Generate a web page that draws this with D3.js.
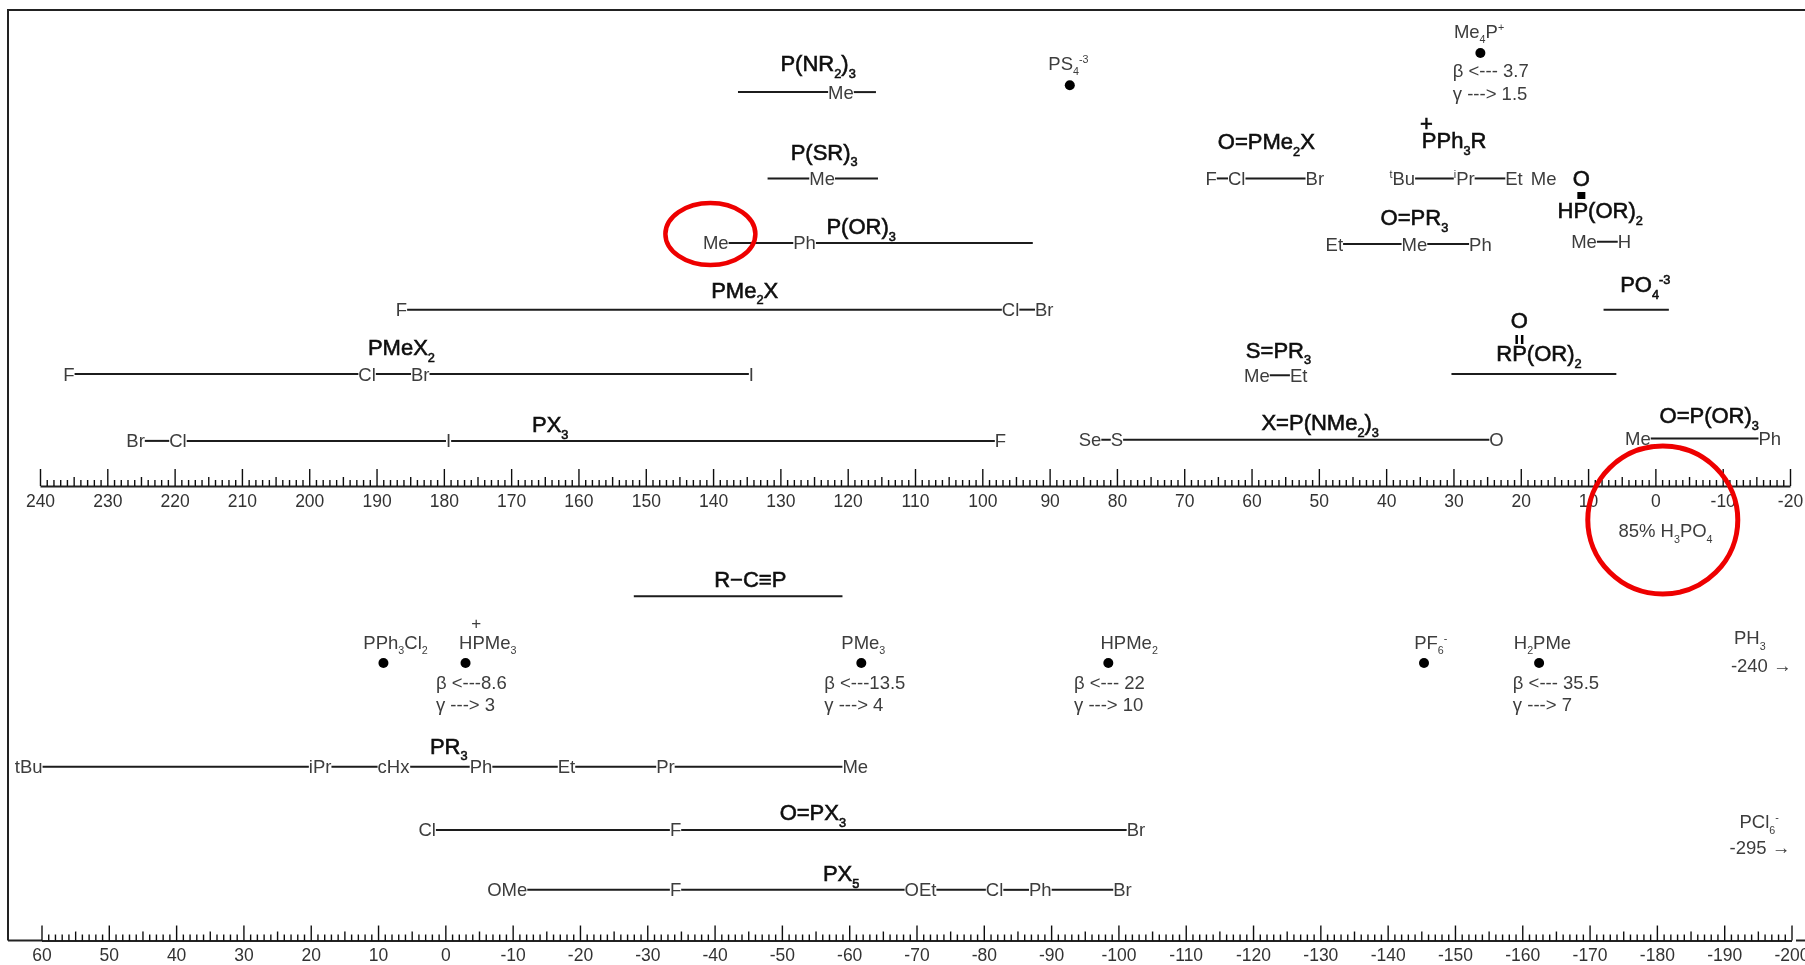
<!DOCTYPE html>
<html><head><meta charset="utf-8">
<script src="https://cdn.jsdelivr.net/npm/d3@7"></script>
<style>
html,body{margin:0;padding:0;background:#fff;overflow:hidden}
svg{display:block;font-family:"Liberation Sans",Arial,sans-serif}
</style></head><body>
<svg id="c" width="1805" height="965"></svg>
<script>
// ---------- tick labels ----------
const topTickLabels = d3.range(240, -21, -10);
const bottomTickLabels = d3.range(60, -201, -10);

// ---------- 31P shift ladders: substituent labels and ppm ----------
const pNR2Labels = [null, "Me", null];          const pNR2Ppm = [136.3, 121, 115.8];
const pSRLabels = [null, "Me", null];           const pSRPpm = [131.9, 123.8, 115.5];
const pORLabels = ["Me", "Ph", null];           const pORPpm = [139.6, 126.4, 92.5];
const pMe2XLabels = ["F", "Cl", "Br"];          const pMe2XPpm = [186.3, 95.8, 90.8];
const pMeX2Labels = ["F", "Cl", "Br", "I"];     const pMeX2Ppm = [235.7, 191.4, 183.5, 134.3];
const pX3Labels = ["Br", "Cl", "I", "F"];       const pX3Ppm = [225.8, 219.5, 179.3, 97.3];
const oPMe2XLabels = ["F", "Cl", "Br"];         const oPMe2XPpm = [66, 62.2, 50.6];
const pPh3RLabels = ["^{t}Bu", "^{i}Pr", "Et"]; const pPh3RPpm = [37.6, 28.4, 21];
const pPh3MeLabels = ["Me"];                    const pPh3MePpm = [16.6];
const oPR3Labels = ["Et", "Me", "Ph"];          const oPR3Ppm = [47.7, 35.8, 26];
const hpORLabels = ["Me", "H"];                 const hpORPpm = [10.6, 4.6];
const po4Labels = [null, null];                 const po4Ppm = [7.7, -2];
const sPR3Labels = ["Me", "Et"];                const sPR3Ppm = [59.2, 53];
const rpORLabels = [null, null];                const rpORPpm = [30.3, 5.8];
const xPNLabels = ["Se", "S", "O"];             const xPNPpm = [84, 80, 23.6];
const oPORLabels = ["Me", "Ph"];                const oPORPpm = [2.6, -17];
const rcpLabels = [null, null];                 const rcpPpm = [-28, -59];
const pR3Labels = ["tBu", "iPr", "cHx", "Ph", "Et", "Pr", "Me"];
const pR3Ppm = [61.9, 18.6, 7.7, -5.3, -18, -32.7, -60.9];
const oPX3Labels = ["Cl", "F", "Br"];           const oPX3Ppm = [2.7, -34.2, -102.6];
const pX5Labels = ["OMe", "F", "OEt", "Cl", "Ph", "Br"];
const pX5Ppm = [-9.2, -34.2, -70.6, -81.6, -88.4, -100.6];

// ---------- single compounds ----------
const topDotNames = ["PS_{4}^{-3}", "Me_{4}P^{+}"];
const topDotPpm = [87, 26];
const bottomDotNames = ["PPh_{3}Cl_{2}", "HPMe_{3}", "PMe_{3}", "HPMe_{2}", "PF_{6}^{-}", "H_{2}PMe"];
const bottomDotPpm = [9.2, -3, -61.8, -98.5, -145.4, -162.5];

// ---------- layout (separate from the data). Levels are in the 1568-wide view ----------
const k = 1805 / 1568;
const yU = d3.scaleLinear().domain([0, 838]).range([0, 838 * k]);
const xTop = d3.scaleLinear().domain([240, -20]).range([40, 1790]);
const xBot = d3.scaleLinear().domain([60, -200]).range([41.5, 1791.5]);
const topBase = 486, botBase = 940.5;

const ladders = [
 {s:xTop, labels:pNR2Labels, ppm:pNR2Ppm, lv:80, title:"P(NR_{2})_{3}", tp:124.4, tl:55},
 {s:xTop, labels:pSRLabels, ppm:pSRPpm, lv:155, title:"P(SR)_{3}", tp:123.5, tl:132},
 {s:xTop, labels:pORLabels, ppm:pORPpm, lv:211, title:"P(OR)_{3}", tp:118, tl:197},
 {s:xTop, labels:pMe2XLabels, ppm:pMe2XPpm, lv:269, title:"PMe_{2}X", tp:135.3, tl:252},
 {s:xTop, labels:pMeX2Labels, ppm:pMeX2Ppm, lv:325, title:"PMeX_{2}", tp:186.3, tl:302},
 {s:xTop, labels:pX3Labels, ppm:pX3Ppm, lv:383, title:"PX_{3}", tp:164.2, tl:369},
 {s:xTop, labels:oPMe2XLabels, ppm:oPMe2XPpm, lv:155, title:"O=PMe_{2}X", tp:57.8, tl:123},
 {s:xTop, labels:pPh3RLabels, ppm:pPh3RPpm, lv:155, title:"PPh_{3}R", tp:29.9, tl:122},
 {s:xTop, labels:pPh3MeLabels, ppm:pPh3MePpm, lv:155},
 {s:xTop, labels:oPR3Labels, ppm:oPR3Ppm, lv:212, title:"O=PR_{3}", tp:35.8, tl:189},
 {s:xTop, labels:hpORLabels, ppm:hpORPpm, lv:210, title:"HP(OR)_{2}", tp:8.2, tl:183},
 {s:xTop, labels:po4Labels, ppm:po4Ppm, lv:269, title:"PO_{4}^{-3}", tp:1.5, tl:247},
 {s:xTop, labels:sPR3Labels, ppm:sPR3Ppm, lv:326, title:"S=PR_{3}", tp:56, tl:304},
 {s:xTop, labels:rpORLabels, ppm:rpORPpm, lv:325, title:"RP(OR)_{2}", tp:17.3, tl:307},
 {s:xTop, labels:xPNLabels, ppm:xPNPpm, lv:382, title:"X=P(NMe_{2})_{3}", tp:49.8, tl:367},
 {s:xTop, labels:oPORLabels, ppm:oPORPpm, lv:381, title:"O=P(OR)_{3}", tp:-8, tl:361},
 {s:xBot, labels:rcpLabels, ppm:rcpPpm, lv:518, title:"R\u2212C\u2261P", tp:-45.3, tl:503},
 {s:xBot, labels:pR3Labels, ppm:pR3Ppm, lv:666, title:"PR_{3}", tp:-0.5, tl:648},
 {s:xBot, labels:oPX3Labels, ppm:oPX3Ppm, lv:721, title:"O=PX_{3}", tp:-54.6, tl:706},
 {s:xBot, labels:pX5Labels, ppm:pX5Ppm, lv:773, title:"PX_{5}", tp:-58.8, tl:759},
];
const dots = [
 {s:xTop, name:topDotNames[0], p:topDotPpm[0], lp:87.2, dl:74, nl:55},
 {s:xTop, name:topDotNames[1], p:topDotPpm[1], lp:26.2, dl:46, nl:27, bp:30.1, bl:61, gl:81, b:"\u03b2 <--- 3.7", g:"\u03b3 ---> 1.5"},
 {s:xBot, name:bottomDotNames[0], p:bottomDotPpm[0], lp:7.4, dl:576, nl:558},
 {s:xBot, name:bottomDotNames[1], p:bottomDotPpm[1], lp:-6.3, dl:576, nl:558, bp:1.4, bl:593, gl:612, b:"\u03b2 <---8.6", g:"\u03b3 ---> 3"},
 {s:xBot, name:bottomDotNames[2], p:bottomDotPpm[2], lp:-62.1, dl:576, nl:558, bp:-56.3, bl:593, gl:612, b:"\u03b2 <---13.5", g:"\u03b3 ---> 4"},
 {s:xBot, name:bottomDotNames[3], p:bottomDotPpm[3], lp:-101.6, dl:576, nl:558, bp:-93.4, bl:593, gl:612, b:"\u03b2 <--- 22", g:"\u03b3 ---> 10"},
 {s:xBot, name:bottomDotNames[4], p:bottomDotPpm[4], lp:-146.4, dl:576, nl:558},
 {s:xBot, name:bottomDotNames[5], p:bottomDotPpm[5], lp:-163, dl:576, nl:558, bp:-158.6, bl:593, gl:612, b:"\u03b2 <--- 35.5", g:"\u03b3 ---> 7"},
];
const notes = [
 {s:xBot, t:"PH_{3}", p:-193.8, l:554},
 {s:xBot, t:"-240 \u2192", p:-195.5, l:578},
 {s:xBot, t:"PCl_{6}^{-}", p:-195.2, l:714},
 {s:xBot, t:"-295 \u2192", p:-195.3, l:736},
 {s:xTop, t:"85% H_{3}PO_{4}", p:-1.5, l:461},
];

const svg = d3.select("#c");
const defs = svg.append("defs");
defs.append("filter").attr("id","soft").attr("x","-2%").attr("y","-2%").attr("width","104%").attr("height","104%")
  .append("feGaussianBlur").attr("stdDeviation",0.45);
const g = svg.append("g").attr("filter","url(#soft)");

const LBL = 18.5, TTL = 22, AX = 17.5, INK = "#222", LBLC = "#3c3c3c";

// rich text: _{sub} and ^{sup}
function rich(sel, str, fs){
  const parts = str.split(/(_\{[^}]*\}|\^\{[^}]*\})/).filter(d => d !== "");
  let shift = 0;
  parts.forEach(p => {
    let target = 0, size = fs, txt = p;
    if (p[0] === "_" && p[1] === "{") { target = fs * 0.3; size = fs * 0.58; txt = p.slice(2, -1); }
    else if (p[0] === "^" && p[1] === "{") { target = -fs * 0.38; size = fs * 0.58; txt = p.slice(2, -1); }
    sel.append("tspan").attr("dy", target - shift).attr("font-size", size).text(txt);
    shift = target;
  });
}
function put(str, x, y, fs, opt){
  opt = opt || {};
  const t = g.append("text").attr("x", x).attr("y", y + fs * 0.35)
    .attr("text-anchor", opt.anchor || "middle").attr("font-size", fs)
    .attr("fill", opt.fill || LBLC);
  if (opt.bold) t.attr("stroke", "#111").attr("stroke-width", 0.6).attr("fill", "#111");
  rich(t, str, fs);
  return t;
}

// frame
g.append("line").attr("x1",8).attr("x2",1805).attr("y1",10).attr("y2",10).attr("stroke",INK).attr("stroke-width",2);
g.append("line").attr("x1",8).attr("x2",8).attr("y1",9).attr("y2",botBase).attr("stroke",INK).attr("stroke-width",2);
g.append("line").attr("x1",8).attr("x2",42).attr("y1",botBase).attr("y2",botBase).attr("stroke",INK).attr("stroke-width",2);
g.append("line").attr("x1",1796).attr("x2",1805).attr("y1",botBase).attr("y2",botBase).attr("stroke",INK).attr("stroke-width",2);

// axes
function axis(scale, base, majorLen, labels){
  const [a, b] = scale.domain();
  const minor = d3.range(b, a + 1, 1);
  const ag = g.append("g").attr("transform", `translate(0,${base})`)
    .call(d3.axisTop(scale).tickValues(minor).tickSizeOuter(0).tickFormat(""));
  ag.select(".domain").attr("stroke", INK).attr("stroke-width", 2);
  ag.selectAll(".tick line").attr("stroke", "#111").attr("stroke-width", 1.4)
    .attr("y2", d => d % 10 === 0 ? -majorLen : (d % 5 === 0 ? -9 : -6));
  const lg = g.append("g").attr("transform", `translate(0,${base + 1})`)
    .call(d3.axisBottom(scale).tickValues(labels).tickSize(0).tickFormat(d => String(d)));
  lg.select(".domain").remove();
  lg.selectAll("text").attr("font-size", AX).attr("font-family", '"Liberation Sans",Arial,sans-serif').attr("fill", "#333").attr("dy", "0.95em");
}
axis(xTop, topBase, 17, topTickLabels);
axis(xBot, botBase, 15, bottomTickLabels);

// ladders
ladders.forEach(r => {
  const y = yU(r.lv), xs = r.ppm.map(r.s);
  const ext = r.labels.map((l, i) => {
    if (!l) return [xs[i], xs[i]];
    const t = put(l, xs[i], y, LBL);
    const b = t.node().getBBox();
    return [b.x, b.x + b.width];
  });
  const segs = d3.pairs(d3.range(r.labels.length));
  g.selectAll(null).data(segs).enter().append("line")
    .attr("x1", d => ext[d[0]][1]).attr("x2", d => ext[d[1]][0])
    .attr("y1", y).attr("y2", y).attr("stroke", "#1c1c1c").attr("stroke-width", 2);
  if (r.title) put(r.title, r.s(r.tp), yU(r.tl), TTL, {bold:true});
});

// dots and their beta/gamma shifts
dots.forEach(d => {
  g.append("circle").attr("cx", d.s(d.p)).attr("cy", yU(d.dl)).attr("r", 5).attr("fill", "#000");
  put(d.name, d.s(d.lp), yU(d.nl), LBL);
  if (d.b) {
    put(d.b, d.s(d.bp), yU(d.bl), LBL, {anchor:"start"});
    put(d.g, d.s(d.bp), yU(d.gl), LBL, {anchor:"start"});
  }
});
notes.forEach(n => put(n.t, n.s(n.p), yU(n.l), LBL));

// decorations on formulas
put("+", xTop(34), yU(107), 22, {bold:true});
put("+", xBot(-4.6), yU(541), 17, {});
put("O", xTop(11), yU(155), 22, {bold:true});
g.append("rect").attr("x", xTop(11) - 4).attr("y", 192).attr("width", 8).attr("height", 7).attr("fill", "#000");
put("O", xTop(20.2), yU(278), 22, {bold:true});
[-3.5, 2].forEach(o => g.append("rect").attr("x", xTop(20.2) + o - 0.5).attr("y", 335).attr("width", 2.5).attr("height", 9).attr("fill", "#000"));

// red reference rings
const ring = svg.append("g").attr("fill", "none").attr("stroke", "#ee0000");
ring.append("ellipse").attr("cx", xTop(140.4)).attr("cy", 234).attr("rx", 45).attr("ry", 31).attr("stroke-width", 4.5);
ring.append("ellipse").attr("cx", xTop(-1.1)).attr("cy", 520).attr("rx", 75).attr("ry", 74).attr("stroke-width", 5);
</script>
</body></html>
